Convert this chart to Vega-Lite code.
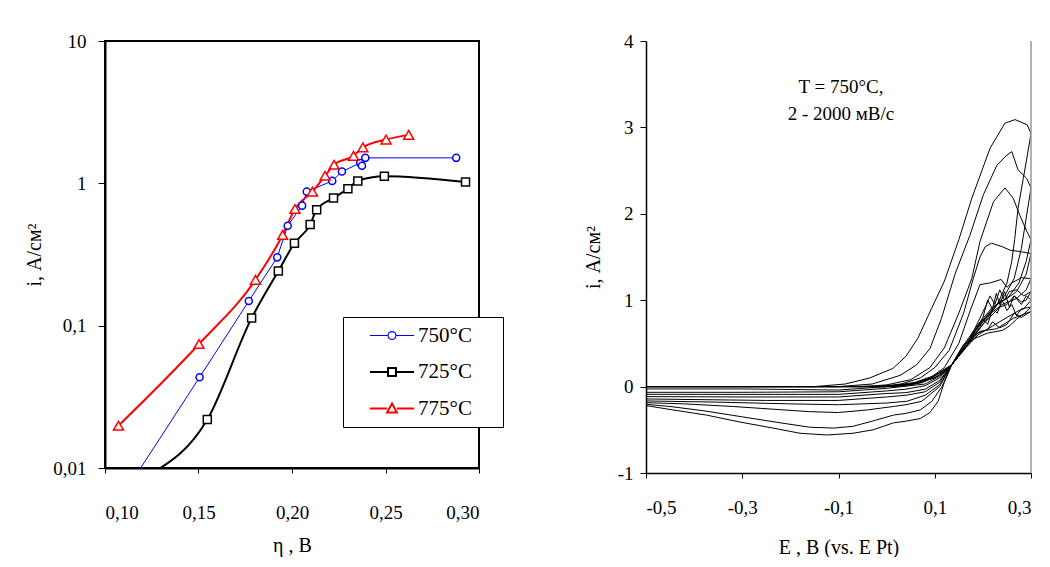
{
  "$schema": "https://vega.github.io/schema/vega-lite/v6.json",
  "background": "white",
  "padding": {"left": 23, "top": 31, "right": 5, "bottom": 0},
  "spacing": 102,
  "config": {
    "font": "Liberation Serif, Times New Roman, DejaVu Serif, serif",
    "view": {"stroke": null},
    "text": {"font": "Liberation Serif, Times New Roman, DejaVu Serif, serif"},
    "axis": {
      "labelFont": "Liberation Serif, Times New Roman, DejaVu Serif, serif", "titleFont": "Liberation Serif, Times New Roman, DejaVu Serif, serif",
      "labelColor": "black", "titleColor": "black", "domainColor": "black", "tickColor": "black",
      "grid": false, "labelFontSize": 19, "titleFontSize": 20, "titleFontWeight": "normal"
    },
    "legend": {"labelFont": "Liberation Serif, Times New Roman, DejaVu Serif, serif"}
  },
  "hconcat": [
    {
      "width": 374, "height": 427,
      "view": {"stroke": "black", "strokeWidth": 2},
      "data": {"values": [
        {"series": "750°C", "eta": 0.112, "i": 0.0072},
        {"series": "750°C", "eta": 0.1506, "i": 0.0434},
        {"series": "750°C", "eta": 0.1769, "i": 0.149},
        {"series": "750°C", "eta": 0.1921, "i": 0.302},
        {"series": "750°C", "eta": 0.1977, "i": 0.504},
        {"series": "750°C", "eta": 0.2054, "i": 0.697},
        {"series": "750°C", "eta": 0.2079, "i": 0.874},
        {"series": "750°C", "eta": 0.2215, "i": 1.04},
        {"series": "750°C", "eta": 0.2267, "i": 1.21},
        {"series": "750°C", "eta": 0.2365, "i": 1.39},
        {"series": "750°C", "eta": 0.2374, "i": 1.33},
        {"series": "750°C", "eta": 0.2392, "i": 1.51},
        {"series": "750°C", "eta": 0.2878, "i": 1.51},
        {"series": "725°C", "eta": 0.1253, "i": 0.0092},
        {"series": "725°C", "eta": 0.1547, "i": 0.0219},
        {"series": "725°C", "eta": 0.1784, "i": 0.113},
        {"series": "725°C", "eta": 0.1927, "i": 0.242},
        {"series": "725°C", "eta": 0.2013, "i": 0.379},
        {"series": "725°C", "eta": 0.2097, "i": 0.513},
        {"series": "725°C", "eta": 0.2132, "i": 0.653},
        {"series": "725°C", "eta": 0.2222, "i": 0.789},
        {"series": "725°C", "eta": 0.2299, "i": 0.917},
        {"series": "725°C", "eta": 0.2352, "i": 1.04},
        {"series": "725°C", "eta": 0.2494, "i": 1.12},
        {"series": "725°C", "eta": 0.2928, "i": 1.02},
        {"series": "775°C", "eta": 0.1072, "i": 0.0198},
        {"series": "775°C", "eta": 0.1503, "i": 0.0743},
        {"series": "775°C", "eta": 0.1805, "i": 0.21},
        {"series": "775°C", "eta": 0.195, "i": 0.434},
        {"series": "775°C", "eta": 0.2016, "i": 0.66},
        {"series": "775°C", "eta": 0.2109, "i": 0.874},
        {"series": "775°C", "eta": 0.2177, "i": 1.13},
        {"series": "775°C", "eta": 0.2225, "i": 1.35},
        {"series": "775°C", "eta": 0.2329, "i": 1.56},
        {"series": "775°C", "eta": 0.2379, "i": 1.79},
        {"series": "775°C", "eta": 0.2503, "i": 2.03},
        {"series": "775°C", "eta": 0.2624, "i": 2.19}
      ]},
      "encoding": {
        "x": {"field": "eta", "type": "quantitative", "title": "η , В",
          "scale": {"domain": [0.1, 0.3], "nice": false, "zero": false},
          "axis": {"values": [0.1, 0.15, 0.2, 0.25, 0.3], "labelExpr": "replace(format(datum.value, '.2f'), '.', ',')",
            "tickSize": 5, "domainWidth": 2, "labelPadding": 30, "titlePadding": 13}},
        "y": {"field": "i", "type": "quantitative", "title": "i, А/см²",
          "scale": {"type": "log", "domain": [0.01, 10], "nice": false},
          "axis": {"values": [0.01, 0.1, 1, 10], "labelExpr": "replace(format(datum.value, '~g'), '.', ',')",
            "tickSize": 7, "domainWidth": 2, "labelPadding": 12, "titlePadding": 8}}
      },
      "layer": [
        {"transform": [{"filter": "datum.series === '750°C'"}],
         "mark": {"type": "line", "clip": true, "strokeWidth": 1},
         "encoding": {"color": {"field": "series", "type": "nominal",
          "scale": {"domain": ["750°C", "725°C", "775°C"], "range": ["#0000ff", "#000000", "#ff0000"]},
          "legend": {
            "orient": "none", "legendX": 238, "legendY": 276, "title": null,
            "padding": 8, "strokeColor": "black", "fillColor": "white",
            "symbolSize": 484, "symbolOffset": 30.5, "labelOffset": 15.5, "rowPadding": 14.5,
            "labelFont": "Liberation Serif, Times New Roman, DejaVu Serif, serif", "labelFontSize": 21, "labelColor": "black",
            "symbolFillColor": "transparent",
            "encode": {"symbols": {"update": {
              "shape": {"signal": "datum.value === '750°C' ? 'M-2,0H-0.36M0.36,0H2M0.36,0A0.36,0.36,0,1,1,-0.36,0A0.36,0.36,0,1,1,0.36,0M9,0' : datum.value === '725°C' ? 'M-2,0H-0.36M0.36,0H2M-0.36,-0.36H0.36V0.36H-0.36ZM9,0' : 'M-2,0H-0.45M0.45,0H2M0,-0.45L0.45,0.36H-0.45ZM9,0'"},
              "strokeWidth": {"signal": "datum.value === '750°C' ? 1.2 : 2"},
              "fill": {"value": "transparent"}
            }}}
          }}}},
        {"transform": [{"filter": "datum.series !== '750°C'"}],
         "mark": {"type": "line", "clip": true, "strokeWidth": 2, "interpolate": "monotone"},
         "encoding": {"color": {"field": "series", "type": "nominal"}}},
        {"transform": [{"filter": "datum.i >= 0.01 && datum.series === '750°C'"}],
         "mark": {"type": "point", "shape": "circle", "size": 50, "filled": false, "fill": "white", "strokeWidth": 1.5, "opacity": 1},
         "encoding": {"color": {"field": "series", "type": "nominal", "legend": null}}},
        {"transform": [{"filter": "datum.i >= 0.01 && datum.series === '725°C'"}],
         "mark": {"type": "point", "shape": "square", "size": 64, "filled": false, "fill": "white", "strokeWidth": 1.5, "opacity": 1},
         "encoding": {"color": {"field": "series", "type": "nominal", "legend": null}}},
        {"transform": [{"filter": "datum.i >= 0.01 && datum.series === '775°C'"}],
         "mark": {"type": "point", "shape": "triangle-up", "size": 100, "filled": false, "fill": "white", "strokeWidth": 1.5, "opacity": 1},
         "encoding": {"color": {"field": "series", "type": "nominal", "legend": null}}}
      ]
    },
    {
      "width": 385, "height": 432,
      "layer": [
        {
          "data": {"values": [
            {"c":1,"E":-0.5,"i":0},{"c":1,"E":-0.2,"i":0},{"c":1,"E":0.0,"i":0},{"c":1,"E":0.06,"i":0.03},{"c":1,"E":0.1,"i":0.12},{"c":1,"E":0.135,"i":0.25},{"c":1,"E":0.167,"i":0.48},{"c":1,"E":0.19,"i":0.62},{"c":1,"E":0.21,"i":0.66},{"c":1,"E":0.22,"i":0.75},{"c":1,"E":0.235,"i":0.68},{"c":1,"E":0.25,"i":0.72},{"c":1,"E":0.265,"i":0.85},{"c":1,"E":0.28,"i":0.8},{"c":1,"E":0.3,"i":0.87},
            {"c":1,"E":0.263,"i":0.79},{"c":1,"E":0.229,"i":0.67},{"c":1,"E":0.194,"i":0.64},{"c":1,"E":0.159,"i":0.48},{"c":1,"E":0.135,"i":0.25},{"c":1,"E":0.11,"i":0.13},{"c":1,"E":0.07,"i":0.04},{"c":1,"E":0.0,"i":0.0},{"c":1,"E":-0.1,"i":-0.04},{"c":1,"E":-0.3,"i":-0.027},{"c":1,"E":-0.5,"i":-0.027},

            {"c":2,"E":-0.5,"i":0},{"c":2,"E":-0.1,"i":0},{"c":2,"E":0.04,"i":0.01},{"c":2,"E":0.1,"i":0.1},{"c":2,"E":0.135,"i":0.25},{"c":2,"E":0.167,"i":0.48},{"c":2,"E":0.19,"i":0.7},{"c":2,"E":0.2,"i":0.78},{"c":2,"E":0.21,"i":0.72},{"c":2,"E":0.22,"i":0.9},{"c":2,"E":0.23,"i":0.85},{"c":2,"E":0.24,"i":1.0},{"c":2,"E":0.25,"i":0.88},{"c":2,"E":0.26,"i":0.95},{"c":2,"E":0.27,"i":0.82},{"c":2,"E":0.28,"i":0.9},{"c":2,"E":0.3,"i":0.92},
            {"c":2,"E":0.285,"i":0.84},{"c":2,"E":0.27,"i":0.78},{"c":2,"E":0.255,"i":0.7},{"c":2,"E":0.24,"i":0.65},{"c":2,"E":0.21,"i":0.62},{"c":2,"E":0.18,"i":0.55},{"c":2,"E":0.16,"i":0.44},{"c":2,"E":0.135,"i":0.25},{"c":2,"E":0.11,"i":0.12},{"c":2,"E":0.08,"i":0.03},{"c":2,"E":0.0,"i":-0.02},{"c":2,"E":-0.1,"i":-0.06},{"c":2,"E":-0.3,"i":-0.066},{"c":2,"E":-0.5,"i":-0.066},

            {"c":3,"E":-0.5,"i":0},{"c":3,"E":0.02,"i":0},{"c":3,"E":0.08,"i":0.06},{"c":3,"E":0.135,"i":0.25},{"c":3,"E":0.167,"i":0.48},{"c":3,"E":0.19,"i":0.7},{"c":3,"E":0.2,"i":0.8},{"c":3,"E":0.21,"i":1.0},{"c":3,"E":0.22,"i":0.9},{"c":3,"E":0.228,"i":1.08},{"c":3,"E":0.235,"i":0.95},{"c":3,"E":0.245,"i":1.1},{"c":3,"E":0.255,"i":0.92},{"c":3,"E":0.265,"i":1.05},{"c":3,"E":0.28,"i":0.95},{"c":3,"E":0.29,"i":1.05},{"c":3,"E":0.3,"i":1.0},
            {"c":3,"E":0.285,"i":0.9},{"c":3,"E":0.275,"i":0.88},{"c":3,"E":0.25,"i":0.8},{"c":3,"E":0.22,"i":0.7},{"c":3,"E":0.19,"i":0.6},{"c":3,"E":0.165,"i":0.45},{"c":3,"E":0.135,"i":0.25},{"c":3,"E":0.11,"i":0.1},{"c":3,"E":0.08,"i":0.01},{"c":3,"E":0.04,"i":-0.03},{"c":3,"E":0.0,"i":-0.05},{"c":3,"E":-0.1,"i":-0.09},{"c":3,"E":-0.3,"i":-0.09},{"c":3,"E":-0.5,"i":-0.089},

            {"c":4,"E":-0.5,"i":0},{"c":4,"E":0.0,"i":0},{"c":4,"E":0.06,"i":0.05},{"c":4,"E":0.1,"i":0.13},{"c":4,"E":0.135,"i":0.25},{"c":4,"E":0.167,"i":0.48},{"c":4,"E":0.19,"i":0.75},{"c":4,"E":0.205,"i":0.92},{"c":4,"E":0.215,"i":1.05},{"c":4,"E":0.225,"i":0.95},{"c":4,"E":0.235,"i":1.12},{"c":4,"E":0.245,"i":1.0},{"c":4,"E":0.255,"i":1.1},{"c":4,"E":0.27,"i":1.12},{"c":4,"E":0.285,"i":1.05},{"c":4,"E":0.3,"i":1.1},
            {"c":4,"E":0.29,"i":1.0},{"c":4,"E":0.28,"i":0.98},{"c":4,"E":0.265,"i":1.05},{"c":4,"E":0.25,"i":0.95},{"c":4,"E":0.235,"i":0.92},{"c":4,"E":0.2,"i":0.72},{"c":4,"E":0.17,"i":0.5},{"c":4,"E":0.135,"i":0.25},{"c":4,"E":0.11,"i":0.07},{"c":4,"E":0.08,"i":-0.03},{"c":4,"E":0.04,"i":-0.07},{"c":4,"E":0.0,"i":-0.08},{"c":4,"E":-0.1,"i":-0.12},{"c":4,"E":-0.3,"i":-0.12},{"c":4,"E":-0.5,"i":-0.116},

            {"c":5,"E":-0.5,"i":0},{"c":5,"E":0.0,"i":0},{"c":5,"E":0.05,"i":0.03},{"c":5,"E":0.09,"i":0.1},{"c":5,"E":0.12,"i":0.22},{"c":5,"E":0.15,"i":0.5},{"c":5,"E":0.175,"i":0.9},{"c":5,"E":0.194,"i":1.18},{"c":5,"E":0.215,"i":1.2},{"c":5,"E":0.238,"i":1.24},{"c":5,"E":0.25,"i":1.15},{"c":5,"E":0.26,"i":1.2},{"c":5,"E":0.28,"i":1.26},{"c":5,"E":0.3,"i":1.25},
            {"c":5,"E":0.29,"i":1.12},{"c":5,"E":0.27,"i":1.02},{"c":5,"E":0.24,"i":0.95},{"c":5,"E":0.21,"i":0.82},{"c":5,"E":0.18,"i":0.62},{"c":5,"E":0.155,"i":0.42},{"c":5,"E":0.135,"i":0.25},{"c":5,"E":0.11,"i":0.05},{"c":5,"E":0.08,"i":-0.06},{"c":5,"E":0.04,"i":-0.1},{"c":5,"E":0.0,"i":-0.12},{"c":5,"E":-0.1,"i":-0.16},{"c":5,"E":-0.25,"i":-0.16},{"c":5,"E":-0.4,"i":-0.15},{"c":5,"E":-0.5,"i":-0.143},

            {"c":6,"E":-0.5,"i":0},{"c":6,"E":-0.02,"i":0},{"c":6,"E":0.03,"i":0.03},{"c":6,"E":0.07,"i":0.1},{"c":6,"E":0.1,"i":0.22},{"c":6,"E":0.13,"i":0.42},{"c":6,"E":0.16,"i":0.85},{"c":6,"E":0.18,"i":1.25},{"c":6,"E":0.194,"i":1.5},{"c":6,"E":0.205,"i":1.62},{"c":6,"E":0.218,"i":1.66},{"c":6,"E":0.24,"i":1.62},{"c":6,"E":0.256,"i":1.58},{"c":6,"E":0.28,"i":1.56},{"c":6,"E":0.3,"i":1.54},
            {"c":6,"E":0.29,"i":1.3},{"c":6,"E":0.27,"i":1.1},{"c":6,"E":0.25,"i":1.02},{"c":6,"E":0.22,"i":0.92},{"c":6,"E":0.19,"i":0.72},{"c":6,"E":0.16,"i":0.48},{"c":6,"E":0.135,"i":0.25},{"c":6,"E":0.11,"i":0.02},{"c":6,"E":0.08,"i":-0.1},{"c":6,"E":0.042,"i":-0.17},{"c":6,"E":0.0,"i":-0.19},{"c":6,"E":-0.1,"i":-0.21},{"c":6,"E":-0.2,"i":-0.2},{"c":6,"E":-0.35,"i":-0.18},{"c":6,"E":-0.5,"i":-0.166},

            {"c":7,"E":-0.5,"i":0},{"c":7,"E":-0.05,"i":0},{"c":7,"E":0.0,"i":0.02},{"c":7,"E":0.05,"i":0.08},{"c":7,"E":0.09,"i":0.22},{"c":7,"E":0.12,"i":0.45},{"c":7,"E":0.15,"i":0.85},{"c":7,"E":0.177,"i":1.25},{"c":7,"E":0.194,"i":1.68},{"c":7,"E":0.222,"i":2.14},{"c":7,"E":0.246,"i":2.3},{"c":7,"E":0.263,"i":2.18},{"c":7,"E":0.277,"i":1.98},{"c":7,"E":0.291,"i":1.8},{"c":7,"E":0.3,"i":1.7},
            {"c":7,"E":0.29,"i":1.45},{"c":7,"E":0.275,"i":1.2},{"c":7,"E":0.255,"i":1.05},{"c":7,"E":0.23,"i":0.95},{"c":7,"E":0.2,"i":0.75},{"c":7,"E":0.17,"i":0.5},{"c":7,"E":0.135,"i":0.25},{"c":7,"E":0.11,"i":0.0},{"c":7,"E":0.073,"i":-0.17},{"c":7,"E":0.04,"i":-0.21},{"c":7,"E":0.014,"i":-0.23},{"c":7,"E":-0.04,"i":-0.27},{"c":7,"E":-0.1,"i":-0.3},{"c":7,"E":-0.16,"i":-0.29},{"c":7,"E":-0.24,"i":-0.26},{"c":7,"E":-0.32,"i":-0.23},{"c":7,"E":-0.42,"i":-0.2},{"c":7,"E":-0.5,"i":-0.186},

            {"c":8,"E":-0.5,"i":0},{"c":8,"E":-0.1,"i":0},{"c":8,"E":-0.03,"i":0.03},{"c":8,"E":0.028,"i":0.13},{"c":8,"E":0.062,"i":0.25},{"c":8,"E":0.09,"i":0.44},{"c":8,"E":0.114,"i":0.79},{"c":8,"E":0.142,"i":1.3},{"c":8,"E":0.173,"i":1.75},{"c":8,"E":0.201,"i":2.22},{"c":8,"E":0.229,"i":2.56},{"c":8,"E":0.25,"i":2.68},{"c":8,"E":0.26,"i":2.72},{"c":8,"E":0.273,"i":2.51},{"c":8,"E":0.291,"i":2.41},{"c":8,"E":0.3,"i":2.3},
            {"c":8,"E":0.29,"i":1.95},{"c":8,"E":0.28,"i":1.6},{"c":8,"E":0.265,"i":1.25},{"c":8,"E":0.245,"i":1.05},{"c":8,"E":0.22,"i":0.9},{"c":8,"E":0.19,"i":0.7},{"c":8,"E":0.16,"i":0.45},{"c":8,"E":0.135,"i":0.25},{"c":8,"E":0.115,"i":0.0},{"c":8,"E":0.094,"i":-0.17},{"c":8,"E":0.07,"i":-0.27},{"c":8,"E":0.04,"i":-0.31},{"c":8,"E":0.014,"i":-0.33},{"c":8,"E":-0.03,"i":-0.4},{"c":8,"E":-0.07,"i":-0.46},{"c":8,"E":-0.11,"i":-0.48},{"c":8,"E":-0.16,"i":-0.47},{"c":8,"E":-0.22,"i":-0.42},{"c":8,"E":-0.3,"i":-0.35},{"c":8,"E":-0.38,"i":-0.28},{"c":8,"E":-0.45,"i":-0.23},{"c":8,"E":-0.5,"i":-0.205},

            {"c":9,"E":-0.5,"i":0},{"c":9,"E":-0.15,"i":0},{"c":9,"E":-0.086,"i":0.03},{"c":9,"E":-0.035,"i":0.1},{"c":9,"E":0.013,"i":0.21},{"c":9,"E":0.04,"i":0.35},{"c":9,"E":0.065,"i":0.56},{"c":9,"E":0.093,"i":0.9},{"c":9,"E":0.12,"i":1.22},{"c":9,"E":0.15,"i":1.7},{"c":9,"E":0.177,"i":2.18},{"c":9,"E":0.215,"i":2.76},{"c":9,"E":0.246,"i":3.05},{"c":9,"E":0.267,"i":3.09},{"c":9,"E":0.292,"i":3.03},{"c":9,"E":0.3,"i":2.93},
            {"c":9,"E":0.29,"i":2.6},{"c":9,"E":0.284,"i":2.41},{"c":9,"E":0.273,"i":2.06},{"c":9,"E":0.266,"i":1.7},{"c":9,"E":0.26,"i":1.45},{"c":9,"E":0.25,"i":1.2},{"c":9,"E":0.23,"i":0.95},{"c":9,"E":0.2,"i":0.72},{"c":9,"E":0.17,"i":0.5},{"c":9,"E":0.15,"i":0.38},{"c":9,"E":0.135,"i":0.25},{"c":9,"E":0.12,"i":0.05},{"c":9,"E":0.107,"i":-0.17},{"c":9,"E":0.09,"i":-0.3},{"c":9,"E":0.07,"i":-0.37},{"c":9,"E":0.04,"i":-0.4},{"c":9,"E":0.014,"i":-0.42},{"c":9,"E":-0.028,"i":-0.5},{"c":9,"E":-0.07,"i":-0.54},{"c":9,"E":-0.124,"i":-0.56},{"c":9,"E":-0.18,"i":-0.54},{"c":9,"E":-0.236,"i":-0.48},{"c":9,"E":-0.305,"i":-0.41},{"c":9,"E":-0.374,"i":-0.33},{"c":9,"E":-0.444,"i":-0.27},{"c":9,"E":-0.5,"i":-0.22}
          ]},
          "mark": {"type": "line", "clip": true, "color": "black", "strokeWidth": 1},
          "encoding": {
            "x": {"field": "E", "type": "quantitative", "title": "E , В (vs. E Pt)",
              "scale": {"domain": [-0.5, 0.3], "nice": false, "zero": false},
              "axis": {"values": [-0.5, -0.3, -0.1, 0.1, 0.3],
                "labelExpr": "(datum.value < 0 ? '-' : '') + replace(format(abs(datum.value), '.1f'), '.', ',')",
                "tickSize": 5, "domainWidth": 1.5, "labelPadding": 20, "titlePadding": 20}},
            "y": {"field": "i", "type": "quantitative", "title": "i, А/см²",
              "scale": {"domain": [-1, 4], "nice": false, "zero": false},
              "axis": {"values": [-1, 0, 1, 2, 3, 4],
                "labelExpr": "(datum.value < 0 ? '-' : '') + format(abs(datum.value), 'd')",
                "tickSize": 6, "domainWidth": 1.5, "labelPadding": 7, "titlePadding": 14}},
            "detail": {"field": "c", "type": "nominal"},
            "order": {"value": null}
          }
        },
        {
          "data": {"values": [{}]},
          "mark": {"type": "rule", "color": "#999999", "strokeWidth": 1.5},
          "encoding": {"x": {"datum": 0.3, "type": "quantitative"}}
        },
        {
          "data": {"values": [
            {"t": "T = 750°C,", "E": -0.095, "i": 3.47},
            {"t": "2 - 2000 мВ/с", "E": -0.095, "i": 3.15}
          ]},
          "mark": {"type": "text", "fontSize": 19, "color": "black"},
          "encoding": {
            "x": {"field": "E", "type": "quantitative"},
            "y": {"field": "i", "type": "quantitative"},
            "text": {"field": "t"}
          }
        }
      ]
    }
  ]
}
